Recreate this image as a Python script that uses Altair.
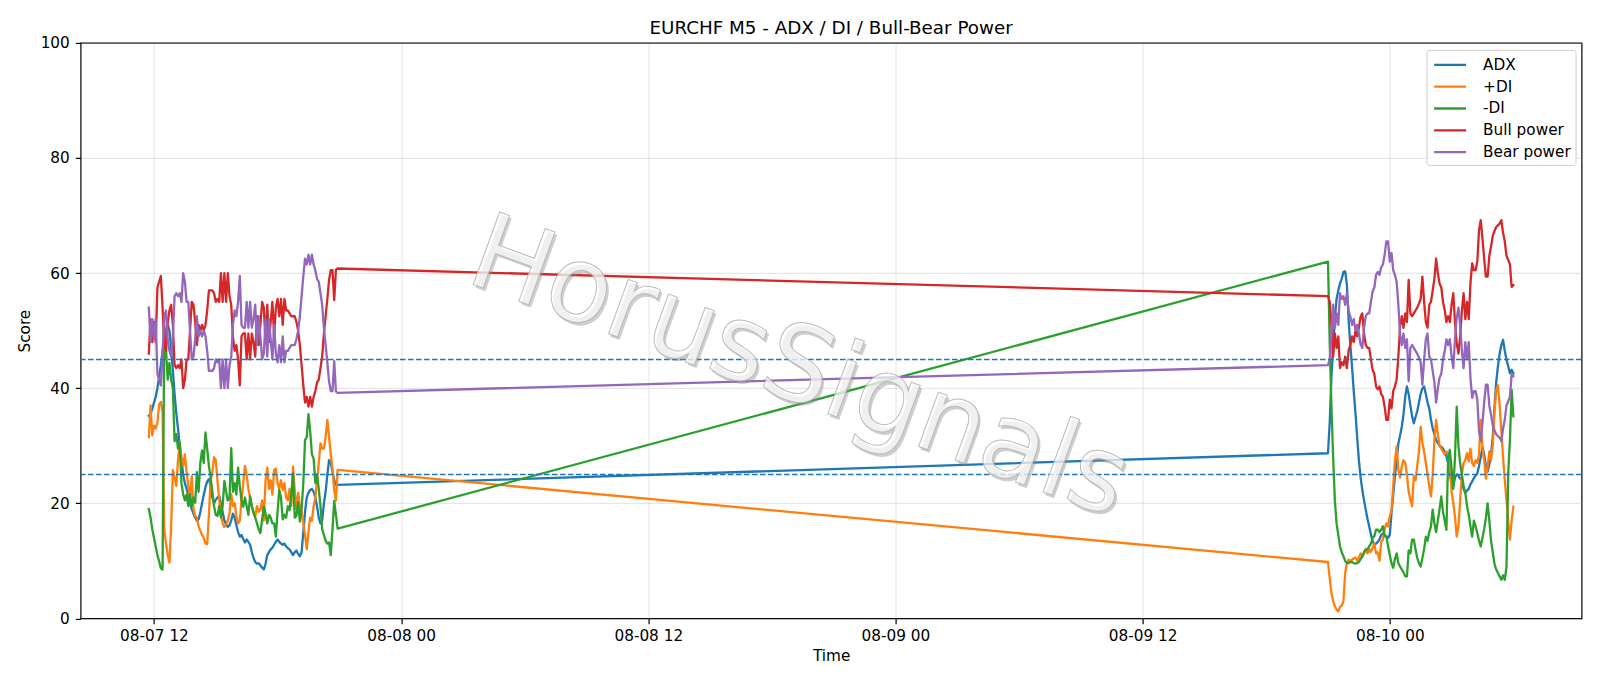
import altair as alt
import pandas as pd

# ---------------- data ----------------
SERIES = ["ADX", "+DI", "-DI", "Bull power", "Bear power"]
COLORS = ["#1f77b4", "#ff7f0e", "#2ca02c", "#d62728", "#9467bd"]

SEG1_START = "2026-08-07 11:45"   # M5 bars, first session
SEG2_START = "2026-08-09 21:00"   # M5 bars, after the weekend gap
BAR_MINUTES = 5

adx_1 = [35.2, 35.5, 36.5, 37.5, 38.5, 40, 42, 44, 46.5, 48.5,
         50, 51, 50, 47, 43, 39, 35.6, 33, 30, 27.5,
         25, 23.5, 22.5, 21.5, 20, 19, 18.2, 17.5, 17, 17.2,
         18.5, 20, 21.5, 22.8, 23.8, 24.2, 23, 21, 20, 20.6,
         21, 21.3, 20, 18.5, 17, 16.3, 15.9, 16.2, 17, 18.2,
         17.5, 16.2, 15, 14.2, 14.5, 13.8, 13.2, 13.7, 13.3, 12.8,
         11.5, 10.5, 9.8, 9.5, 9.6, 9.2, 8.8, 8.5, 9.5, 11,
         11.5, 12, 12.3, 12.8, 13.3, 13.7, 13.3, 13, 12.8, 13,
         12.5, 12.2, 12, 11.5, 11, 11.5, 11.8, 11.2, 10.8, 11.5,
         15, 18.5, 21, 21.8, 22.3, 22.5, 22, 21, 19.5, 17.5,
         16.5, 17, 20, 22, 25, 27.5, 27, 25.5, 24, 23.2, 23.2]
adx_2 = [28.7, 34, 42, 47, 52, 55.5, 57, 58.2, 59, 60.2,
         60.3, 58, 52, 47.5, 43.8, 39.5, 35.7, 31.5, 27.5, 24.5,
         22.3, 20.5, 18.9, 17.3, 16, 14.6, 13.4, 12.8, 13, 13.3,
         13.7, 14.5, 14.8, 14.5, 14.2, 14, 14.5, 18.3, 21.5, 24.7,
         27.5, 30.4, 31.8, 33.3, 35.5, 38.5, 40.3, 39, 37, 35.1,
         33.9, 35, 36, 37.5, 39, 40, 40.3, 39, 37.5, 36.5,
         34.5, 33, 32, 31, 30.5, 30, 29.8, 29.5, 29, 28.2,
         27, 25, 23.5, 22.9, 24.5, 25, 24.8, 24.3, 24, 22.5,
         21.8, 22.2, 22.5, 23.3, 23.8, 24.4, 24.8, 25.2, 26.5, 28,
         29.8, 28.5, 26.5, 25.5, 26.8, 28.5, 31.5, 36.8, 41, 43.8,
         46, 47.5, 48.4, 46.5, 45, 43.8, 42.6, 43.2, 42.6]

pdi_1 = [31.5, 37, 31.8, 33.5, 33, 34, 37.2, 37.6, 36, 15.5,
         13, 11, 9.7, 16, 25.8, 24.5, 23, 27.5, 30.5, 28,
         26.5, 28.5, 25.4, 23, 21, 24.7, 19, 17.8, 17.5, 16,
         15.2, 14.5, 14, 13, 12.9, 18, 24, 25.4, 28, 27.5,
         23.9, 20.6, 17.8, 16.5, 15.9, 16.3, 17, 18.2, 21.6, 19.5,
         20, 17.8, 16.5, 17, 20.5, 23.5, 26.5, 25, 22.5, 21,
         19.5, 18.5, 17.7, 19.5, 18.5, 19, 20.5, 17, 24, 26.2,
         22.5, 24, 21.5, 25.8, 26, 23.5, 22.5, 24, 22.3, 23.5,
         21, 20.5, 22.5, 19.5, 26.4, 22.3, 19, 21.8, 19.5, 18.5,
         16.5, 14.5, 12, 15, 17.5, 17, 19.5, 21, 24, 27,
         30.4, 29.5, 29.5, 31.5, 34.5, 31.5, 28.5, 26, 22.3, 20.5, 25.8]
pdi_2 = [9.8, 7, 4.5, 3, 2.1, 1.5, 1.2, 2, 2.2, 3,
         7.9, 9.5, 10.2, 10, 10.2, 10.4, 10.6, 10, 10.6, 11.3,
         10.7, 11.3, 12, 11.3, 12, 11.5, 12.3, 13, 11.3, 11.5,
         10, 13.3, 13.7, 15.5, 16.5, 16, 17.7, 18.8, 22.9, 27.5,
         29.9, 25.8, 24.5, 26.5, 27.5, 27, 25, 22, 20.6, 19.5,
         24.7, 24, 26.5, 29, 33.3, 30.5, 29, 27, 25, 23,
         21.2, 25, 31, 34.5, 32, 30, 29.5, 29, 28.5, 29,
         28.7, 27, 22, 20, 17.7, 14.2, 16, 20.5, 25, 27,
         27.5, 28.7, 27.3, 29.5, 27, 26.5, 27.5, 27, 28.5, 34.5,
         29.5, 27.5, 24.3, 26.3, 29, 27.5, 30, 35.7, 39.7, 40.5,
         37, 32.5, 28, 24, 20.5, 17, 13.7, 17, 19.4]

mdi_1 = [19, 17.5, 15.5, 14, 12.5, 11, 9.9, 8.7, 8.5, 51,
         46.7, 41.5, 44.4, 41.5, 40, 30.8, 32, 29.5, 30.5, 23.5,
         21.6, 20.5, 21.5, 19.5, 21.5, 19.5, 21, 20.1, 25.4, 22,
         27, 29.2, 27, 32.3, 29.5, 26.5, 24.5, 22, 19.5, 18,
         17.8, 19.5, 17.5, 19.5, 23.9, 22, 20.5, 20.8, 29.6, 22,
         23.5, 21.5, 26.2, 23, 20.5, 19.4, 21, 19.5, 18, 21.2,
         19.5, 18.3, 17.5, 16.5, 15.5, 14.8, 17.2, 19.4, 18.2, 16.5,
         18, 17.5, 16.5, 16.5, 14.2, 18.5, 22.3, 21, 17.2, 18,
         17.5, 19.5, 18.8, 21.5, 25.2, 17.5, 17.8, 20.2, 16.8, 19,
         23.5, 31, 31.5, 35.5, 32.5, 28.5, 27.8, 23.5, 25, 22.5,
         19.5, 15.5, 14.5, 13.5, 13, 13.2, 11, 15.5, 20.4, 18, 15.6]
mdi_2 = [62, 48, 37, 28, 20.5, 16.5, 14.5, 12.5, 11.5, 10.8,
         10, 9.6, 9.6, 9.8, 9.8, 9.6, 9.5, 9.6, 9.8, 10.3,
         10.8, 11.5, 12, 12, 12.5, 13, 14, 14.3, 15.4, 15.4,
         15, 15.4, 16, 14.3, 14.3, 12.5, 11, 9.6, 8.8, 10.3,
         11.3, 9.6, 9, 8.5, 8, 7.3, 7.3, 11.8, 11.3, 13.7,
         13.7, 12, 10.5, 9.6, 9, 10.5, 12, 14.2, 13.5, 15,
         16, 18.9, 16.5, 15, 17, 19, 21.2, 18.5, 17, 15.4,
         28, 29.3, 26, 22.5, 28, 36.8, 30, 27, 25, 23,
         21.8, 19.5, 18, 16, 14.2, 17, 16, 14.8, 13.5, 12.5,
         14, 15.5, 17.5, 20, 17, 13.5, 11.5, 9.5, 8.5, 7.9,
         7.3, 6.7, 7.5, 6.7, 9, 25.2, 31, 39.7, 35.1]

bull_1 = [46, 52, 48, 51.5, 48, 57.5, 58.5, 59.5, 54, 47.5,
          46.5, 51.5, 53.5, 54.5, 51, 44, 43.5, 44, 43.5, 45,
          40, 41.5, 45, 45, 50, 55, 54.5, 51.5, 47.5, 51,
          50, 51, 50, 51, 53.5, 57, 57, 57, 56.5, 55,
          55.5, 55, 60, 55, 60, 55, 60, 56, 54.5, 49,
          46.5, 47.5, 45, 40.5, 49, 49.5, 49.5, 45, 49.5, 45,
          49.5, 48, 45.5, 52.5, 47.5, 51, 55, 54, 48, 54.5,
          48, 51.5, 55, 49, 54, 55.5, 52.5, 55.5, 51, 55.5,
          53.5, 53.5, 53, 52.5, 52.5, 52.5, 51.5, 50, 47.5, 44,
          40.5, 37.5, 38.5, 36.8, 38.5, 36.8, 38.5, 39.5, 41, 41.5,
          43.5, 45.5, 49.5, 52.5, 55.5, 58.8, 60.5, 60.5, 55.3, 60.6, 60.8]
bull_2 = [56, 55, 51, 45.5, 49.5, 47, 49, 43.5, 44.5, 44,
          45.5, 43.5, 46.5, 47.5, 49, 48, 50, 49, 50.5, 52.4,
          53, 49.5, 47.5, 47, 47, 45, 43.2, 42.5, 40.3, 39.8,
          40.3, 39, 38.5, 36.8, 34.5, 34.5, 38, 36.5, 39.5, 40.3,
          41.5, 45.5, 50.7, 52.5, 50.5, 53, 51.5, 58.8, 53, 52.5,
          53, 53.5, 54, 54.7, 55.5, 59.4, 55, 51.5, 50.5, 54.5,
          55, 57, 59, 62.5, 60, 58.2, 57.5, 55, 53.6, 51.5,
          52.5, 51.5, 54.5, 56.5, 51.5, 47.8, 46, 49, 53.5, 56.5,
          52, 55, 52, 58.2, 61.7, 60.5, 60.5, 62, 67.5, 69.2,
          66, 62.5, 59.4, 59.4, 63, 64.6, 66.5, 67.3, 68, 68.3,
          68.6, 69.2, 67, 65.5, 63, 62.3, 61.5, 57.6, 57.9]

bear_1 = [54, 48, 52, 48.5, 52, 42.5, 41.5, 40.5, 46, 52.5,
          53.5, 48.5, 46.5, 45.5, 49, 56, 56.5, 56, 56.5, 55,
          60, 58.5, 55, 55, 50, 45, 45.5, 48.5, 52.5, 49,
          50, 49, 50, 49, 46.5, 43, 43, 43, 43.5, 45,
          44.5, 45, 40, 45, 40, 45, 40, 44, 45.5, 51,
          53.5, 52.5, 55, 59.5, 51, 50.5, 50.5, 55, 50.5, 55,
          50.5, 52, 54.5, 47.5, 52.5, 49, 45, 46, 52, 45.5,
          52, 48.5, 45, 51, 46, 44.5, 47.5, 44.5, 49, 44.5,
          46.5, 46.5, 47, 47.5, 47.5, 47.5, 48.5, 50, 52.5, 56,
          59.5, 62.5, 61.5, 63.2, 61.5, 63.2, 61.5, 60.5, 59, 58.5,
          56.5, 54.5, 50.5, 47.5, 44.5, 41.2, 39.5, 39.5, 44.7, 39.4, 39.2]
bear_2 = [44, 45, 49, 54.5, 50.5, 53, 51, 56.5, 55.5, 56,
          54.5, 56.5, 53.5, 52.5, 51, 52, 50, 51, 49.5, 47.6,
          47, 50.5, 52.5, 53, 53, 55, 56.8, 57.5, 59.7, 60.2,
          59.7, 61, 61.5, 63.2, 65.5, 65.5, 62, 63.5, 60.5, 59.7,
          58.5, 54.5, 49.3, 47.5, 49.5, 47, 48.5, 41.2, 47, 47.5,
          47, 46.5, 46, 45.3, 44.5, 40.6, 45, 48.5, 49.5, 45.5,
          45, 43, 41, 37.5, 40, 41.8, 42.5, 45, 46.4, 48.5,
          47.5, 48.5, 45.5, 43.5, 48.5, 52.2, 54, 51, 46.5, 43.5,
          48, 45, 48, 41.8, 38.3, 39.5, 39.5, 38, 32.5, 30.8,
          34, 37.5, 40.6, 40.6, 37, 35.4, 33.5, 32.7, 32, 31.7,
          31.4, 30.8, 33, 34.5, 37, 37.7, 38.5, 42.4, 42.1]

THRESHOLDS = [25, 45]
X_TICKS = ["2026-08-07 12:00", "2026-08-08 00:00", "2026-08-08 12:00",
           "2026-08-09 00:00", "2026-08-09 12:00", "2026-08-10 00:00"]
Y_TICKS = [0, 20, 40, 60, 80, 100]
WATERMARK = "HorusSignals"
WATERMARK_TIME = "2026-08-08 19:20"
WATERMARK_SCORE = 43.3
TITLE = "EURCHF M5 - ADX / DI / Bull-Bear Power"

# ---------------- build table ----------------
def ms(ts):
    return int((pd.Timestamp(ts) - pd.Timestamp("1970-01-01")) / pd.Timedelta("1ms"))

STEP = BAR_MINUTES * 60 * 1000
t_1 = [ms(SEG1_START) + i * STEP for i in range(len(adx_1))]
t_2 = [ms(SEG2_START) + i * STEP for i in range(len(adx_2))]
times = t_1 + t_2

values = {
    "ADX": adx_1 + adx_2,
    "+DI": pdi_1 + pdi_2,
    "-DI": mdi_1 + mdi_2,
    "Bull power": bull_1 + bull_2,
    "Bear power": bear_1 + bear_2,
}
rows = []
for name in SERIES:
    for t, v in zip(times, values[name]):
        rows.append({"t": t, "score": v, "series": name})
df = pd.DataFrame(rows)

tmin, tmax = min(times), max(times)
span = tmax - tmin
x_domain = [tmin - 0.05 * span, tmax + 0.05 * span]

FONT = "DejaVu Sans"
W, H = 1501, 575.5

x_enc = alt.X(
    "t:T",
    scale=alt.Scale(type="utc", domain=x_domain, nice=False),
    axis=alt.Axis(values=[ms(v) for v in X_TICKS],
                  labelExpr="utcFormat(datum.value, '%m-%d %H')",
                  title="Time", labelFlush=False, labelPadding=4.5,
                  titlePadding=5),
)
y_enc = alt.Y(
    "score:Q",
    scale=alt.Scale(domain=[0, 100], nice=False, zero=False),
    axis=alt.Axis(values=Y_TICKS, format="d", title="Score",
                  labelFlush=False, labelPadding=6, titlePadding=8),
)
color_enc = alt.Color(
    "series:N",
    scale=alt.Scale(domain=SERIES, range=COLORS),
    legend=alt.Legend(
        title=None, orient="none", legendX=1346, legendY=7,
        symbolType="M-1.68,0L1.68,0", symbolSize=361, symbolStrokeWidth=2.3,
        symbolOffset=8.5, labelOffset=22, padding=4, rowPadding=1.8,
        labelFont=FONT, labelFontSize=15.3, labelColor="black",
        fillColor="rgba(255,255,255,0.8)", strokeColor="#cccccc",
        cornerRadius=3, labelLimit=0,
    ),
)

base = alt.Chart(df)
line_layers = [
    base.transform_filter(alt.datum.series == name)
    .mark_line(strokeWidth=2.3, strokeJoin="round", strokeCap="square")
    .encode(x=x_enc, y=y_enc, color=color_enc)
    for name in SERIES
]

rules = alt.Chart(pd.DataFrame({"level": THRESHOLDS})).mark_rule(
    color="#1f77b4", strokeDash=[5.6, 2.4], strokeWidth=1.5
).encode(y="level:Q")

wm_df = pd.DataFrame({"t": [ms(WATERMARK_TIME)], "score": [WATERMARK_SCORE],
                      "label": [WATERMARK]})
wm_shadow = alt.Chart(wm_df).mark_text(
    font=FONT, fontSize=106, angle=20, align="center", baseline="middle",
    dx=3, dy=2, fill="#8c8c8c", opacity=0.42,
).encode(x="t:T", y="score:Q", text="label:N")
wm_text = alt.Chart(wm_df).mark_text(
    font=FONT, fontSize=106, angle=20, align="center", baseline="middle",
    fill="#ffffff", fillOpacity=0.7, stroke="#b5b5b5", strokeWidth=1.0,
    strokeOpacity=0.9,
).encode(x="t:T", y="score:Q", text="label:N")

chart = alt.layer(*line_layers, rules, wm_shadow, wm_text).properties(
    width=W, height=H,
    title=alt.TitleParams(TITLE, font=FONT, fontSize=18.3, fontWeight="normal",
                          color="black", anchor="middle", baseline="alphabetic",
                          offset=9, dy=25.5),
    autosize=alt.AutoSizeParams(type="none"),
    padding={"left": 72.6, "top": 34.9, "right": 10, "bottom": 59},
).configure_view(
    stroke="black", strokeWidth=1.2
).configure_axis(
    domain=False, grid=True, gridColor="#b0b0b0", gridOpacity=0.3, gridWidth=1.1,
    tickColor="black", tickSize=5.3, tickWidth=1.2,
    labelFont=FONT, labelFontSize=15.3, labelColor="black",
    titleFont=FONT, titleFontSize=15.3, titleFontWeight="normal", titleColor="black",
)

chart.save("out.html", embed_options={"renderer": "svg", "actions": False})
